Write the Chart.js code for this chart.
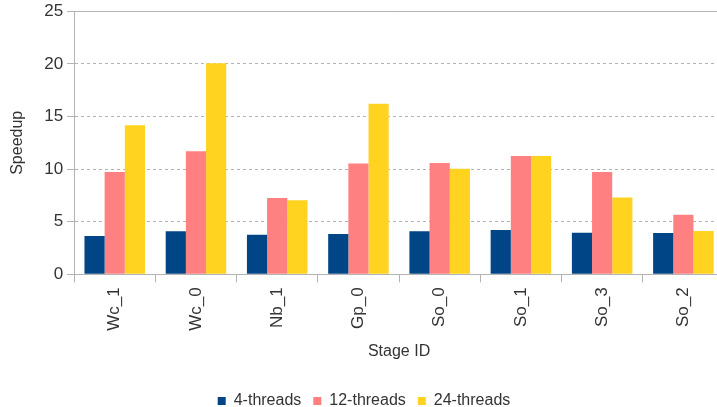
<!DOCTYPE html>
<html>
<head>
<meta charset="utf-8">
<script src="https://cdn.jsdelivr.net/npm/chart.js@4"></script>
<style>
  html, body { margin: 0; padding: 0; background: #fff; overflow: hidden; }
  #wrap { width: 724px; height: 422px; margin-top: -3px; }
</style>
</head>
<body>
<div id="wrap"><canvas id="speedupChart"></canvas></div>
<script>
const stages = ['Wc_1', 'Wc_0', 'Nb_1', 'Gp_0', 'So_0', 'So_1', 'So_3', 'So_2'];
const threads4 = [3.64, 4.09, 3.77, 3.83, 4.09, 4.21, 3.96, 3.93];
const threads12 = [9.73, 11.7, 7.25, 10.52, 10.58, 11.25, 9.73, 5.67];
const threads24 = [14.16, 20.05, 7.03, 16.2, 10.04, 11.25, 7.29, 4.12];
const yTicks = [0, 5, 10, 15, 20, 25];

Chart.defaults.font.family = '"Liberation Sans", Arial, sans-serif';
Chart.defaults.color = '#333';

new Chart(document.getElementById('speedupChart'), {
  type: 'bar',
  data: {
    labels: stages,
    datasets: [
      { label: '4-threads', data: threads4, backgroundColor: '#004586' },
      { label: '12-threads', data: threads12, backgroundColor: '#ff8080' },
      { label: '24-threads', data: threads24, backgroundColor: '#ffd320' }
    ]
  },
  options: {
    responsive: true,
    maintainAspectRatio: false,
    animation: false,
    layout: { padding: { top: 0, right: 0, left: 4, bottom: 0 } },
    datasets: { bar: { categoryPercentage: 0.745, barPercentage: 1.0 } },
    plugins: {
      tooltip: { enabled: false },
      legend: {
        position: 'bottom',
        labels: { boxWidth: 8, boxHeight: 8, padding: 12, font: { size: 16 } }
      }
    },
    scales: {
      x: {
        grid: { drawOnChartArea: false, tickLength: 8, color: '#b3b3b3' },
        border: { color: '#b3b3b3' },
        ticks: { minRotation: 90, maxRotation: 90, font: { size: 17 }, padding: 5 },
        title: { display: true, text: 'Stage ID', font: { size: 16 }, padding: { top: 6, bottom: 20 } }
      },
      y: {
        min: 0,
        max: 25,
        afterBuildTicks: axis => { axis.ticks = yTicks.map(v => ({ value: v })); },
        grid: { color: '#b3b3b3', tickLength: 7 },
        border: {
          color: '#b3b3b3',
          dash: ctx => (ctx.tick && (ctx.tick.value === 0 || ctx.tick.value === 25)) ? [] : [3, 3]
        },
        ticks: { font: { size: 17 }, padding: 4 },
        title: { display: true, text: 'Speedup', font: { size: 16 }, padding: { top: 4, bottom: 13 } }
      }
    }
  }
});
</script>
</body>
</html>
